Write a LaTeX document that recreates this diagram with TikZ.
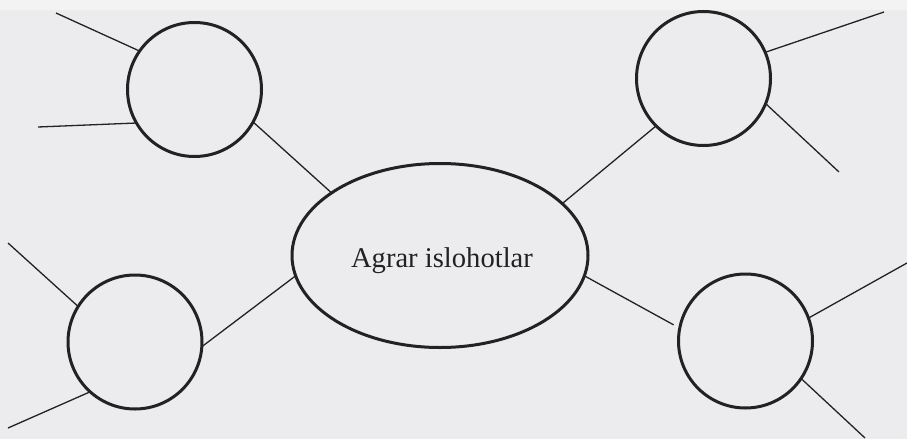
\documentclass[tikz,border=0pt]{standalone}
\usepackage{fontspec}
\setmainfont{Liberation Serif}
\usetikzlibrary{shapes.geometric}
\definecolor{paper}{HTML}{ECECEF}
\definecolor{paperTop}{HTML}{F3F3F4}
\definecolor{ink}{HTML}{222222}
\tikzset{
  bubble/.style={circle, draw=ink, line width=3pt, minimum size=134pt, inner sep=0pt, outer sep=0pt},
  hub/.style={ellipse, draw=ink, line width=3pt, minimum width=296pt, minimum height=184pt, inner sep=0pt, outer sep=0pt},
  spoke/.style={draw=ink, line width=1.3pt},
  hubtext/.style={font=\fontsize{28.6}{34}\selectfont, text=ink, inner sep=0pt, anchor=base}
}
\begin{document}
\begin{tikzpicture}[x=1pt,y=-1pt]
\useasboundingbox (0,0) rectangle (907,439);
\fill[paper] (0,0) rectangle (907,439);
\fill[paperTop] (0,0) rectangle (907,10);

\node[hub] (el) at (440,255.5) {};
\node[hubtext] (lbl) at (442,267) {Agrar islohotlar};

\node[bubble] (tl) at (194.5,89.5) {};
\node[bubble] (tr) at (703.5,78.5) {};
\node[bubble] (bl) at (135,342) {};
\node[bubble] (br) at (745.5,341) {};

\coordinate (tla) at (56,13);
\coordinate (tlb) at (38,127);
\coordinate (tra) at (884,12);
\coordinate (trb) at (839,172);
\coordinate (bla) at (8,243);
\coordinate (blb) at (8,428);
\coordinate (bra) at (907,263);
\coordinate (brb) at (865,438);

% connectors to the hub
\draw[spoke] (tl.-29.1) -- (el.150.2);
\draw[spoke] (tr.225) -- (el.23.4);
\draw[spoke] (bl.-4.3) -- (el.188.3);
\draw[spoke, shorten >=7pt] (el.-8.2) -- (br.169);

% free spokes
\draw[spoke] (tl.145.5) -- (tla);
\draw[spoke] (tl.210.8) -- (tlb);
\draw[spoke] (tr.23) -- (tra);
\draw[spoke] (tr.-22) -- (trb);
\draw[spoke] (bl.148.4) -- (bla);
\draw[spoke] (bl.228.3) -- (blb);
\draw[spoke] (br.20.1) -- (bra);
\draw[spoke] (br.-34.6) -- (brb);
\end{tikzpicture}
\end{document}
